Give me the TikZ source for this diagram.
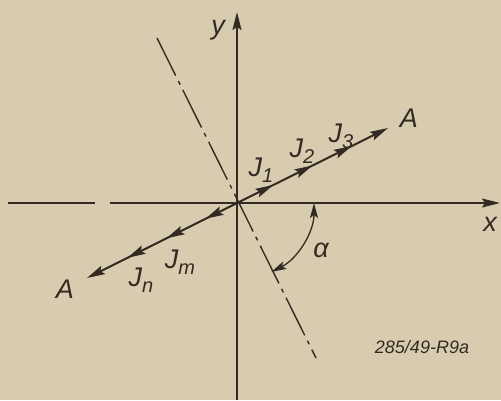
\documentclass[tikz,border=0pt]{standalone}
\usepackage{fontspec}
\setsansfont{Liberation Sans}
\usetikzlibrary{arrows.meta,decorations.markings}
\definecolor{paper}{HTML}{D8CCB0}
\definecolor{ink}{HTML}{342A22}
\newcommand{\mysub}[1]{\raisebox{-0.22em}{\fontsize{20}{22}\selectfont #1}}
\begin{document}
\begin{tikzpicture}[x=1pt,y=-1pt,
  every node/.style={text=ink,font=\sffamily\itshape\fontsize{27}{30}\selectfont,inner sep=0pt},
  tip/.style={-{Stealth[length=18pt,width=9pt,inset=3pt]}},
  axis/.style={draw=ink,line width=1.8pt},
  centre/.style={draw=ink,line width=1.4pt,dash pattern=on 42pt off 6pt on 4pt off 6pt},
  current/.style={draw=ink,line width=2pt,tip,postaction={decorate}}]
\fill[paper] (0,0) rectangle (501,400);
\useasboundingbox (0,0) rectangle (501,400);
\coordinate (O) at (237,203);
\coordinate (yb) at (237,400);
\coordinate (yt) at (237,12);
\coordinate (xl) at (8,203);
\coordinate (xg1) at (95,203);
\coordinate (xg2) at (110,203);
\coordinate (xr) at (500,203);
\coordinate (c1) at (157,38);
\coordinate (c2) at (316,358);
\coordinate (Au) at (388,128);
\coordinate (Ad) at (87,278);
\coordinate (a0) at (314,203);
% axes
\draw[axis,tip] (yb) -- (yt);
\draw[axis] (xl) -- (xg1);
\draw[axis,tip] (xg2) -- (xr);
% centre line
\draw[centre] (c1) -- (c2);
% currents
\draw[current,decoration={markings,
  mark=at position 0.24 with {\arrow{Stealth[length=18pt,width=9pt,inset=3pt]}},
  mark=at position 0.50 with {\arrow{Stealth[length=18pt,width=9pt,inset=3pt]}},
  mark=at position 0.76 with {\arrow{Stealth[length=18pt,width=9pt,inset=3pt]}}}] (O) -- (Au);
\draw[current,decoration={markings,
  mark=at position 0.21 with {\arrow{Stealth[length=18pt,width=9pt,inset=3pt]}},
  mark=at position 0.47 with {\arrow{Stealth[length=18pt,width=9pt,inset=3pt]}},
  mark=at position 0.73 with {\arrow{Stealth[length=18pt,width=9pt,inset=3pt]}}}] (O) -- (Ad);
% angle
\draw[draw=ink,line width=1.3pt,{Stealth[length=15pt,width=8pt,inset=3pt]}-{Stealth[length=15pt,width=8pt,inset=3pt]}]
  (a0) arc[start angle=0,end angle=-63.5,radius=77pt];
% labels
\node (ly) at (218,30) {y};
\node (lx) at (490,224) {x};
\node (lJ1) at (261,170) {J\mysub{1}};
\node (lJ2) at (302,151) {J\mysub{2}};
\node (lJ3) at (341,136) {J\mysub{3}};
\node (lA1) at (409,118) {A};
\node (lJm) at (180,262) {J\mysub{m}};
\node (lJn) at (141,280) {J\mysub{n}};
\node (lA2) at (65,289) {A};
\node (lal) at (321,250) {α};
\node[font=\sffamily\itshape\fontsize{18}{20}\selectfont] (code) at (422,347) {285/49-R9a};
\end{tikzpicture}
\end{document}
